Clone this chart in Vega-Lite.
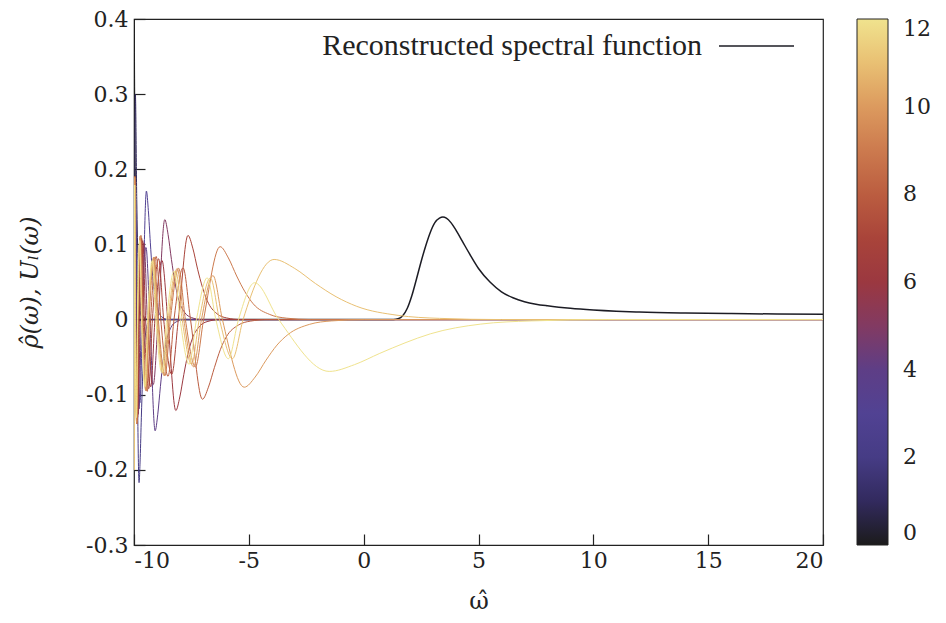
{
  "$schema": "https://vega.github.io/schema/vega-lite/v6.json",
  "width": 689,
  "height": 526,
  "autosize": {"type": "none"},
  "padding": {"left": 134, "top": 19, "right": 123, "bottom": 78},
  "background": "white",
  "config": {
    "font": "DejaVu Serif",
    "view": {"stroke": "#222222", "strokeWidth": 1.2},
    "axis": {
      "grid": false,
      "domain": false,
      "tickColor": "#222222",
      "tickWidth": 1.2,
      "tickSize": -11
    }
  },
  "datasets": {
    "recon": [
      {"w": -10, "v": 0}, {"w": 1.3, "v": 0}, {"w": 1.5, "v": 0.001}, {"w": 1.7, "v": 0.005},
      {"w": 1.9, "v": 0.015}, {"w": 2.1, "v": 0.032}, {"w": 2.3, "v": 0.054}, {"w": 2.5, "v": 0.077},
      {"w": 2.7, "v": 0.098}, {"w": 2.9, "v": 0.116}, {"w": 3.1, "v": 0.129}, {"w": 3.3, "v": 0.135},
      {"w": 3.45, "v": 0.1365}, {"w": 3.6, "v": 0.135}, {"w": 3.8, "v": 0.129}, {"w": 4.0, "v": 0.12},
      {"w": 4.3, "v": 0.104}, {"w": 4.6, "v": 0.088}, {"w": 5.0, "v": 0.068}, {"w": 5.5, "v": 0.05},
      {"w": 6.0, "v": 0.037}, {"w": 6.5, "v": 0.029}, {"w": 7.0, "v": 0.0238}, {"w": 7.5, "v": 0.0205},
      {"w": 8.0, "v": 0.0183}, {"w": 8.5, "v": 0.0165}, {"w": 9.0, "v": 0.015}, {"w": 10, "v": 0.0128},
      {"w": 11, "v": 0.0112}, {"w": 12, "v": 0.0101}, {"w": 14, "v": 0.0088}, {"w": 16, "v": 0.008},
      {"w": 18, "v": 0.0074}, {"w": 20, "v": 0.007}
    ],
    "basis": [
      {"l": 0, "w": -10, "v": 0.5}, {"l": 0, "w": -9.97, "v": 0.3}, {"l": 0, "w": -9.93, "v": 0.15}, {"l": 0, "w": -9.87, "v": 0.06},
      {"l": 0, "w": -9.78, "v": 0.018}, {"l": 0, "w": -9.65, "v": 0.004}, {"l": 0, "w": -9.4, "v": 0}, {"l": 0, "w": 20, "v": 0},

      {"l": 1, "w": -10, "v": -0.2}, {"l": 1, "w": -9.985, "v": 0}, {"l": 1, "w": -9.94, "v": 0.3}, {"l": 1, "w": -9.88, "v": 0.16},
      {"l": 1, "w": -9.82, "v": 0.07}, {"l": 1, "w": -9.74, "v": 0.025}, {"l": 1, "w": -9.6, "v": 0.005}, {"l": 1, "w": -9.4, "v": 0}, {"l": 1, "w": 20, "v": 0},

      {"l": 2, "w": -10, "v": -0.2}, {"l": 2, "w": -9.9856, "v": 0}, {"l": 2, "w": -9.9275, "v": 0.141}, {"l": 2, "w": -9.88, "v": 0},
      {"l": 2, "w": -9.78, "v": -0.217}, {"l": 2, "w": -9.73, "v": -0.184}, {"l": 2, "w": -9.68, "v": -0.13}, {"l": 2, "w": -9.63, "v": -0.082},
      {"l": 2, "w": -9.58, "v": -0.048}, {"l": 2, "w": -9.48, "v": -0.015}, {"l": 2, "w": -9.38, "v": -0.004}, {"l": 2, "w": -9.23, "v": 0}, {"l": 2, "w": 20, "v": 0},

      {"l": 3, "w": -10, "v": -0.2}, {"l": 3, "w": -9.9856, "v": 0}, {"l": 3, "w": -9.9278, "v": 0.153}, {"l": 3, "w": -9.8805, "v": 0},
      {"l": 3, "w": -9.7427, "v": -0.111}, {"l": 3, "w": -9.63, "v": 0}, {"l": 3, "w": -9.46, "v": 0.171}, {"l": 3, "w": -9.375, "v": 0.145},
      {"l": 3, "w": -9.29, "v": 0.103}, {"l": 3, "w": -9.205, "v": 0.065}, {"l": 3, "w": -9.12, "v": 0.038}, {"l": 3, "w": -8.95, "v": 0.012},
      {"l": 3, "w": -8.78, "v": 0.0034}, {"l": 3, "w": -8.525, "v": 0}, {"l": 3, "w": 20, "v": 0},

      {"l": 4, "w": -10, "v": -0.2}, {"l": 4, "w": -9.9877, "v": 0}, {"l": 4, "w": -9.938, "v": 0.164}, {"l": 4, "w": -9.8973, "v": 0},
      {"l": 4, "w": -9.779, "v": -0.119}, {"l": 4, "w": -9.6822, "v": 0}, {"l": 4, "w": -9.4775, "v": 0.096}, {"l": 4, "w": -9.31, "v": 0},
      {"l": 4, "w": -9.08, "v": -0.148}, {"l": 4, "w": -8.965, "v": -0.126}, {"l": 4, "w": -8.85, "v": -0.089}, {"l": 4, "w": -8.735, "v": -0.056},
      {"l": 4, "w": -8.62, "v": -0.033}, {"l": 4, "w": -8.39, "v": -0.0104}, {"l": 4, "w": -8.16, "v": -0.003}, {"l": 4, "w": -7.815, "v": 0}, {"l": 4, "w": 20, "v": 0},

      {"l": 5, "w": -10, "v": -0.2}, {"l": 5, "w": -9.9896, "v": 0}, {"l": 5, "w": -9.9477, "v": 0.173}, {"l": 5, "w": -9.9135, "v": 0},
      {"l": 5, "w": -9.8138, "v": -0.126}, {"l": 5, "w": -9.7322, "v": 0}, {"l": 5, "w": -9.5597, "v": 0.102}, {"l": 5, "w": -9.4185, "v": 0},
      {"l": 5, "w": -9.1608, "v": -0.0865}, {"l": 5, "w": -8.95, "v": 0}, {"l": 5, "w": -8.66, "v": 0.133}, {"l": 5, "w": -8.515, "v": 0.113},
      {"l": 5, "w": -8.37, "v": 0.08}, {"l": 5, "w": -8.225, "v": 0.051}, {"l": 5, "w": -8.08, "v": 0.029}, {"l": 5, "w": -7.79, "v": 0.0093},
      {"l": 5, "w": -7.5, "v": 0.0027}, {"l": 5, "w": -7.065, "v": 0}, {"l": 5, "w": 20, "v": 0},

      {"l": 6, "w": -10, "v": -0.2}, {"l": 6, "w": -9.991, "v": 0}, {"l": 6, "w": -9.9546, "v": 0.179}, {"l": 6, "w": -9.9249, "v": 0},
      {"l": 6, "w": -9.8383, "v": -0.13}, {"l": 6, "w": -9.7675, "v": 0}, {"l": 6, "w": -9.6177, "v": 0.105}, {"l": 6, "w": -9.4951, "v": 0},
      {"l": 6, "w": -9.2713, "v": -0.0895}, {"l": 6, "w": -9.0882, "v": 0}, {"l": 6, "w": -8.7812, "v": 0.0787}, {"l": 6, "w": -8.53, "v": 0},
      {"l": 6, "w": -8.18, "v": -0.121}, {"l": 6, "w": -8.005, "v": -0.103}, {"l": 6, "w": -7.83, "v": -0.073}, {"l": 6, "w": -7.655, "v": -0.046},
      {"l": 6, "w": -7.48, "v": -0.027}, {"l": 6, "w": -7.13, "v": -0.0085}, {"l": 6, "w": -6.78, "v": -0.0024}, {"l": 6, "w": -6.255, "v": 0}, {"l": 6, "w": 20, "v": 0},

      {"l": 7, "w": -10, "v": -0.2}, {"l": 7, "w": -9.9921, "v": 0}, {"l": 7, "w": -9.9601, "v": 0.184}, {"l": 7, "w": -9.9339, "v": 0},
      {"l": 7, "w": -9.8578, "v": -0.134}, {"l": 7, "w": -9.7955, "v": 0}, {"l": 7, "w": -9.6638, "v": 0.108}, {"l": 7, "w": -9.556, "v": 0},
      {"l": 7, "w": -9.3592, "v": -0.092}, {"l": 7, "w": -9.1982, "v": 0}, {"l": 7, "w": -8.9282, "v": 0.081}, {"l": 7, "w": -8.7073, "v": 0},
      {"l": 7, "w": -8.3568, "v": -0.0728}, {"l": 7, "w": -8.07, "v": 0}, {"l": 7, "w": -7.65, "v": 0.112}, {"l": 7, "w": -7.44, "v": 0.095},
      {"l": 7, "w": -7.23, "v": 0.067}, {"l": 7, "w": -7.02, "v": 0.043}, {"l": 7, "w": -6.81, "v": 0.025}, {"l": 7, "w": -6.39, "v": 0.0078},
      {"l": 7, "w": -5.97, "v": 0.0022}, {"l": 7, "w": -5.34, "v": 0}, {"l": 7, "w": 20, "v": 0},

      {"l": 8, "w": -10, "v": -0.2}, {"l": 8, "w": -9.9928, "v": 0}, {"l": 8, "w": -9.964, "v": 0.191}, {"l": 8, "w": -9.9404, "v": 0},
      {"l": 8, "w": -9.8717, "v": -0.139}, {"l": 8, "w": -9.8155, "v": 0}, {"l": 8, "w": -9.6966, "v": 0.112}, {"l": 8, "w": -9.5994, "v": 0},
      {"l": 8, "w": -9.4218, "v": -0.0955}, {"l": 8, "w": -9.2765, "v": 0}, {"l": 8, "w": -9.0328, "v": 0.084}, {"l": 8, "w": -8.8335, "v": 0},
      {"l": 8, "w": -8.5171, "v": -0.0755}, {"l": 8, "w": -8.2583, "v": 0}, {"l": 8, "w": -7.8632, "v": 0.0689}, {"l": 8, "w": -7.54, "v": 0},
      {"l": 8, "w": -7.02, "v": -0.106}, {"l": 8, "w": -6.76, "v": -0.09}, {"l": 8, "w": -6.5, "v": -0.064}, {"l": 8, "w": -6.24, "v": -0.04},
      {"l": 8, "w": -5.98, "v": -0.023}, {"l": 8, "w": -5.46, "v": -0.0074}, {"l": 8, "w": -4.94, "v": -0.0021}, {"l": 8, "w": -4.16, "v": 0}, {"l": 8, "w": 20, "v": 0},

      {"l": 9, "w": -10, "v": -0.2}, {"l": 9, "w": -9.9935, "v": 0}, {"l": 9, "w": -9.9673, "v": 0.19}, {"l": 9, "w": -9.9458, "v": 0},
      {"l": 9, "w": -9.8833, "v": -0.138}, {"l": 9, "w": -9.8322, "v": 0}, {"l": 9, "w": -9.7241, "v": 0.111}, {"l": 9, "w": -9.6356, "v": 0},
      {"l": 9, "w": -9.4742, "v": -0.0948}, {"l": 9, "w": -9.3421, "v": 0}, {"l": 9, "w": -9.1207, "v": 0.0833}, {"l": 9, "w": -8.9395, "v": 0},
      {"l": 9, "w": -8.6517, "v": -0.0749}, {"l": 9, "w": -8.4162, "v": 0}, {"l": 9, "w": -8.0569, "v": 0.0683}, {"l": 9, "w": -7.7629, "v": 0},
      {"l": 9, "w": -7.3268, "v": -0.0631}, {"l": 9, "w": -6.97, "v": 0}, {"l": 9, "w": -6.25, "v": 0.097}, {"l": 9, "w": -5.89, "v": 0.082},
      {"l": 9, "w": -5.53, "v": 0.058}, {"l": 9, "w": -5.17, "v": 0.037}, {"l": 9, "w": -4.81, "v": 0.021}, {"l": 9, "w": -4.09, "v": 0.0068},
      {"l": 9, "w": -3.37, "v": 0.0019}, {"l": 9, "w": -2.29, "v": 0}, {"l": 9, "w": 20, "v": 0},

      {"l": 10, "w": -10, "v": -0.2}, {"l": 10, "w": -9.9937, "v": 0}, {"l": 10, "w": -9.9682, "v": 0.189}, {"l": 10, "w": -9.9474, "v": 0},
      {"l": 10, "w": -9.8868, "v": -0.137}, {"l": 10, "w": -9.8373, "v": 0}, {"l": 10, "w": -9.7325, "v": 0.111}, {"l": 10, "w": -9.6468, "v": 0},
      {"l": 10, "w": -9.4902, "v": -0.0943}, {"l": 10, "w": -9.362, "v": 0}, {"l": 10, "w": -9.1473, "v": 0.0829}, {"l": 10, "w": -8.9717, "v": 0},
      {"l": 10, "w": -8.6928, "v": -0.0745}, {"l": 10, "w": -8.4646, "v": 0}, {"l": 10, "w": -8.1163, "v": 0.068}, {"l": 10, "w": -7.8313, "v": 0},
      {"l": 10, "w": -7.4086, "v": -0.0628}, {"l": 10, "w": -7.0628, "v": 0}, {"l": 10, "w": -6.5608, "v": 0.0585}, {"l": 10, "w": -6.15, "v": 0},
      {"l": 10, "w": -5.2, "v": -0.09}, {"l": 10, "w": -4.725, "v": -0.0765}, {"l": 10, "w": -4.25, "v": -0.054}, {"l": 10, "w": -3.775, "v": -0.034},
      {"l": 10, "w": -3.3, "v": -0.02}, {"l": 10, "w": -2.35, "v": -0.0063}, {"l": 10, "w": -1.4, "v": -0.0018}, {"l": 10, "w": 0.025, "v": 0}, {"l": 10, "w": 20, "v": 0},

      {"l": 11, "w": -10, "v": -0.2}, {"l": 11, "w": -9.9939, "v": 0}, {"l": 11, "w": -9.9693, "v": 0.179}, {"l": 11, "w": -9.9492, "v": 0},
      {"l": 11, "w": -9.8907, "v": -0.13}, {"l": 11, "w": -9.8428, "v": 0}, {"l": 11, "w": -9.7415, "v": 0.105}, {"l": 11, "w": -9.6586, "v": 0},
      {"l": 11, "w": -9.5072, "v": -0.0893}, {"l": 11, "w": -9.3834, "v": 0}, {"l": 11, "w": -9.1757, "v": 0.0785}, {"l": 11, "w": -9.0058, "v": 0},
      {"l": 11, "w": -8.7365, "v": -0.0706}, {"l": 11, "w": -8.5161, "v": 0}, {"l": 11, "w": -8.1793, "v": 0.0644}, {"l": 11, "w": -7.9038, "v": 0},
      {"l": 11, "w": -7.4949, "v": -0.0595}, {"l": 11, "w": -7.1604, "v": 0}, {"l": 11, "w": -6.6753, "v": 0.0554}, {"l": 11, "w": -6.2784, "v": 0},
      {"l": 11, "w": -5.7128, "v": -0.052}, {"l": 11, "w": -5.25, "v": 0}, {"l": 11, "w": -3.9, "v": 0.08}, {"l": 11, "w": -3.0, "v": 0.068},
      {"l": 11, "w": -2.1, "v": 0.048}, {"l": 11, "w": -1.2, "v": 0.0304}, {"l": 11, "w": -0.3, "v": 0.0176}, {"l": 11, "w": 1.5, "v": 0.0056},
      {"l": 11, "w": 3.3, "v": 0.0016}, {"l": 11, "w": 6.0, "v": 0}, {"l": 11, "w": 20, "v": 0},

      {"l": 12, "w": -10, "v": -0.2}, {"l": 12, "w": -9.9942, "v": 0}, {"l": 12, "w": -9.9707, "v": 0.179}, {"l": 12, "w": -9.9514, "v": 0},
      {"l": 12, "w": -9.8953, "v": -0.1305}, {"l": 12, "w": -9.8494, "v": 0}, {"l": 12, "w": -9.7525, "v": 0.1052}, {"l": 12, "w": -9.6732, "v": 0},
      {"l": 12, "w": -9.5282, "v": -0.0895}, {"l": 12, "w": -9.4095, "v": 0}, {"l": 12, "w": -9.2104, "v": 0.0787}, {"l": 12, "w": -9.0475, "v": 0},
      {"l": 12, "w": -8.7897, "v": -0.0707}, {"l": 12, "w": -8.5787, "v": 0}, {"l": 12, "w": -8.2558, "v": 0.0646}, {"l": 12, "w": -7.9916, "v": 0},
      {"l": 12, "w": -7.6003, "v": -0.0596}, {"l": 12, "w": -7.2801, "v": 0}, {"l": 12, "w": -6.8157, "v": 0.0555}, {"l": 12, "w": -6.4357, "v": 0},
      {"l": 12, "w": -5.8936, "v": -0.0521}, {"l": 12, "w": -5.45, "v": 0}, {"l": 12, "w": -4.75, "v": 0.049}, {"l": 12, "w": -3.7, "v": 0},
      {"l": 12, "w": -1.5, "v": -0.069}, {"l": 12, "w": -0.4, "v": -0.06}, {"l": 12, "w": 0.7, "v": -0.045}, {"l": 12, "w": 1.8, "v": -0.031},
      {"l": 12, "w": 2.9, "v": -0.019}, {"l": 12, "w": 5.1, "v": -0.006}, {"l": 12, "w": 7.3, "v": -0.0018}, {"l": 12, "w": 10.6, "v": 0}, {"l": 12, "w": 20, "v": 0}
    ]
  },
  "encoding": {
    "x": {
      "field": "w",
      "type": "quantitative",
      "scale": {"domain": [-10, 20], "nice": false, "zero": false},
      "axis": {
        "values": [-10, -5, 0, 5, 10, 15, 20],
        "labelPadding": 16,
        "labelFont": "DejaVu Serif",
        "labelFontSize": 22,
        "labelColor": "#222222",
        "labelExpr": "datum.value < 0 ? '-' + format(-datum.value, '') : format(datum.value, '')",
        "title": "ω̂",
        "titleFont": "DejaVu Serif",
        "titleFontSize": 24,
        "titleColor": "#222222",
        "titleFontWeight": "normal",
        "titleY": 56,
        "titleBaseline": "middle"
      }
    },
    "y": {
      "field": "v",
      "type": "quantitative",
      "scale": {"domain": [-0.3, 0.4], "nice": false, "zero": false},
      "axis": {
        "values": [-0.3, -0.2, -0.1, 0, 0.1, 0.2, 0.3, 0.4],
        "labelPadding": 17,
        "labelFont": "DejaVu Serif",
        "labelFontSize": 22,
        "labelColor": "#222222",
        "labelExpr": "datum.value < 0 ? '-' + format(-datum.value, '') : format(datum.value, '')",
        "title": "ρ̂(ω), Uₗ(ω)",
        "titleFont": "DejaVu Serif",
        "titleFontSize": 24,
        "titleColor": "#222222",
        "titleFontWeight": "normal",
        "titleFontStyle": "italic",
        "titleX": -104,
        "titleY": 263,
        "titleAngle": -90,
        "titleAlign": "center",
        "titleBaseline": "middle"
      }
    }
  },
  "layer": [
    {
      "data": {"name": "recon"},
      "mark": {"type": "line", "interpolate": "monotone", "clip": true, "strokeWidth": 1.5},
      "encoding": {
        "stroke": {
          "datum": "Reconstructed spectral function",
          "type": "nominal",
          "scale": {"range": ["#1c1c24"]},
          "legend": {
            "orient": "none",
            "legendX": 584,
            "legendY": -11.5,
            "title": null,
            "padding": 0,
            "symbolType": "stroke",
            "symbolSize": 5625,
            "symbolStrokeWidth": 1.3,
            "symbolStrokeColor": "#1c1c24",
            "labelFont": "Liberation Serif, DejaVu Serif, serif",
            "labelFontSize": 30,
            "labelColor": "#222222",
            "labelAlign": "right",
            "labelOffset": -93,
            "labelLimit": 600
          }
        }
      }
    },
    {
      "data": {"name": "basis"},
      "mark": {"type": "line", "interpolate": "monotone", "clip": true, "strokeWidth": 1},
      "encoding": {
        "detail": {"field": "l", "type": "nominal"},
        "color": {
          "field": "l",
          "type": "quantitative",
          "scale": {
            "domain": [0, 1, 2, 3, 4, 5, 6, 7, 8, 9, 10, 11, 12],
            "range": ["#1b1b1b", "#322a5e", "#463c85", "#514293", "#5e3e86", "#823a62", "#9b3840", "#a9443a", "#bb5d40", "#cc7a4e", "#dc9a5e", "#e9c073", "#f0e38e"]
          },
          "legend": {
            "type": "gradient",
            "orient": "none",
            "legendX": 723,
            "legendY": 0,
            "direction": "vertical",
            "title": null,
            "padding": 0,
            "gradientLength": 526,
            "gradientThickness": 31,
            "gradientStrokeColor": "#222222",
            "gradientStrokeWidth": 1,
            "values": [0, 2, 4, 6, 8, 10, 12],
            "labelFont": "DejaVu Serif",
            "labelFontSize": 22,
            "labelColor": "#222222",
            "labelOffset": 15,
            "labelOverlap": false,
            "labelBaseline": "middle"
          }
        }
      }
    }
  ]
}
